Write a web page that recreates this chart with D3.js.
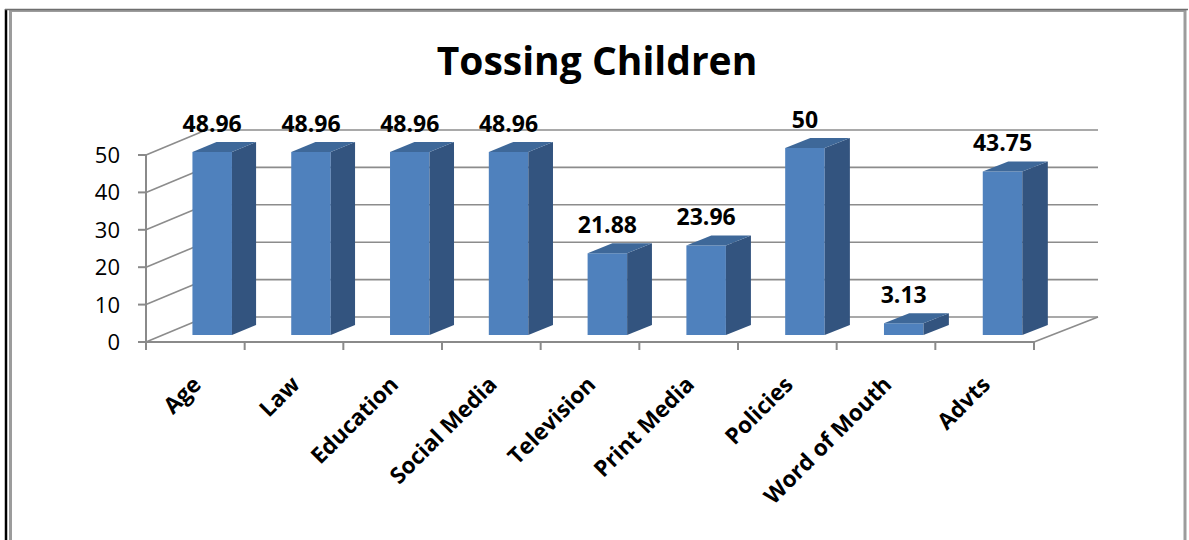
<!DOCTYPE html>
<html>
<head>
<meta charset="utf-8">
<script src="https://cdn.jsdelivr.net/npm/d3@7"></script>
<style>
  html, body { margin: 0; padding: 0; background: #fff; }
  svg { display: block; }
</style>
</head>
<body>
<svg id="chart" width="1189" height="540"></svg>
<script>
// ---- data ----
const title = "Tossing Children";
const categories = ["Age", "Law", "Education", "Social Media", "Television", "Print Media", "Policies", "Word of Mouth", "Advts"];
const values = [48.96, 48.96, 48.96, 48.96, 21.88, 23.96, 50, 3.13, 43.75];
const valueLabels = ["48.96", "48.96", "48.96", "48.96", "21.88", "23.96", "50", "3.13", "43.75"];
const yTicks = [0, 10, 20, 30, 40, 50];

// ---- layout ----
const W = 1189, H = 540;
const svg = d3.select("#chart");
const FONT = "'Open Sans', Lato, sans-serif";

const x = d3.scaleBand().domain(categories).range([146, 1034]).paddingInner(0).paddingOuter(0);
const y = d3.scaleLinear().domain([0, 50]).range([342, 155]);

const DY = 25;                          // depth offset in y (full depth)
const DX = xf => 60 + 4 * (xf - 146) / 888; // depth offset in x (full depth)
const proj = (xf, v, z) => [xf + z * DX(xf), y(v) - z * DY];

const gridColor = "#8c8c8c";

// background
svg.append("rect").attr("width", W).attr("height", H).attr("fill", "#fff");

// frame
svg.append("rect").attr("x", 10.5).attr("y", 10.5).attr("width", 1174.5).attr("height", 600)
  .attr("fill", "none").attr("stroke", "#9c9c9c").attr("stroke-width", 3);
svg.append("line").attr("x1", 6).attr("x2", 6).attr("y1", 9).attr("y2", H)
  .attr("stroke", "#000").attr("stroke-width", 2.5);
svg.append("line").attr("x1", 5).attr("x2", 1188).attr("y1", 9.5).attr("y2", 9.5)
  .attr("stroke", "#6e6e6e").attr("stroke-width", 1.5);

// title
svg.append("text").attr("x", 597).attr("y", 75).attr("text-anchor", "middle")
  .attr("font-family", FONT).attr("font-weight", "bold").attr("font-size", 39)
  .attr("fill", "#000").text(title);

const grid = svg.append("g").attr("stroke", gridColor).attr("stroke-width", 1.6).attr("fill", "none");
const x0 = x.range()[0], x1 = x.range()[1];

// back wall gridlines & left wall diagonals
yTicks.forEach(v => {
  const bl = proj(x0, v, 1), br = proj(x1, v, 1);
  grid.append("line").attr("x1", bl[0]).attr("y1", bl[1]).attr("x2", br[0]).attr("y2", br[1]);
  const fl = proj(x0, v, 0);
  grid.append("line").attr("x1", fl[0]).attr("y1", fl[1]).attr("x2", bl[0]).attr("y2", bl[1]);
});
// floor right edge
{
  const a = proj(x1, 0, 0), b = proj(x1, 0, 1);
  grid.append("line").attr("x1", a[0]).attr("y1", a[1]).attr("x2", b[0]).attr("y2", b[1]);
}

// axes (front)
const axG = svg.append("g").attr("stroke", "#8a8a8a").attr("stroke-width", 2).attr("fill", "none");
axG.append("line").attr("x1", x0).attr("x2", x0).attr("y1", y(0)).attr("y2", y(50));
axG.append("line").attr("x1", x0).attr("x2", x1).attr("y1", y(0)).attr("y2", y(0));
yTicks.forEach(v => {
  axG.append("line").attr("x1", x0 - 8).attr("x2", x0).attr("y1", y(v)).attr("y2", y(v));
});
const xTickPos = categories.map(c => x(c)).concat([x1]);
xTickPos.forEach(p => {
  axG.append("line").attr("x1", p).attr("x2", p).attr("y1", y(0)).attr("y2", y(0) + 8);
});

// y tick labels
svg.append("g").selectAll("text").data(yTicks).join("text")
  .attr("x", 120).attr("y", d => y(d)).attr("dy", "0.36em").attr("text-anchor", "end")
  .attr("font-family", FONT).attr("font-size", 22).attr("fill", "#000")
  .text(d => d);

// bars
const bw = x.bandwidth() / 2.5;
const z0 = 0.28, z1 = 0.68;
const cFront = "#4f81bd", cSide = "#33547f", cTop = "#3e6899";
const barsG = svg.append("g");
categories.forEach((c, i) => {
  const v = values[i];
  const xc = x(c) + x.bandwidth() / 2;
  const xl = xc - bw / 2, xr = xc + bw / 2;
  const g = barsG.append("g");
  const pt = (xx, vv, zz) => proj(xx, vv, zz).join(",");
  // front
  g.append("polygon").attr("fill", cFront)
    .attr("points", [pt(xl, 0, z0), pt(xr, 0, z0), pt(xr, v, z0), pt(xl, v, z0)].join(" "));
  // side
  g.append("polygon").attr("fill", cSide)
    .attr("points", [pt(xr, 0, z0), pt(xr, 0, z1), pt(xr, v, z1), pt(xr, v, z0)].join(" "));
  // top
  g.append("polygon").attr("fill", cTop)
    .attr("points", [pt(xl, v, z0), pt(xr, v, z0), pt(xr, v, z1), pt(xl, v, z1)].join(" "));
  // data label
  const ft = proj(xc, v, z0);
  svg.append("text").attr("x", ft[0]).attr("y", ft[1] - 20).attr("text-anchor", "middle")
    .attr("font-family", FONT).attr("font-weight", "bold").attr("font-size", 23).attr("fill", "#000")
    .text(valueLabels[i]);
});

// category labels
svg.append("g").selectAll("text").data(categories).join("text")
  .attr("transform", d => `translate(${x(d) + x.bandwidth() / 2 + 7},386) rotate(-45)`)
  .attr("text-anchor", "end")
  .attr("font-family", FONT).attr("font-weight", "bold").attr("font-size", 22.5).attr("fill", "#000")
  .text(d => d);
</script>
</body>
</html>
